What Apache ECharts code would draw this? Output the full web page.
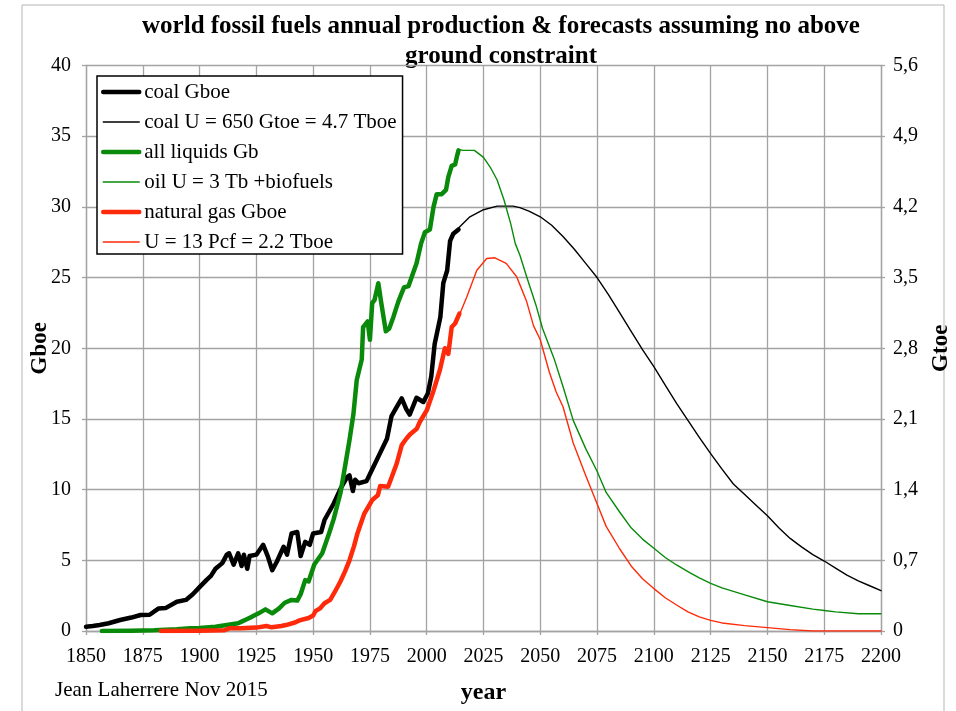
<!DOCTYPE html>
<html>
<head>
<meta charset="utf-8">
<script src="https://cdn.jsdelivr.net/npm/echarts@6/dist/echarts.min.js"></script>
<style>
  html, body { margin: 0; padding: 0; background: #ffffff; }
  #chart { width: 956px; height: 711px; }
</style>
</head>
<body>
<div id="chart"></div>
<script>
// Annual production in Gboe, [year, value]
const coalHistory = [
  [1850,0.3],[1853,0.35],[1856,0.42],[1860,0.55],[1865,0.78],[1870,0.95],[1874,1.13],[1878,1.15],
  [1882,1.6],[1885,1.62],[1890,2.07],[1894,2.2],[1897,2.6],[1900,3.1],[1903,3.6],[1905,3.9],
  [1907,4.4],[1910,4.8],[1912,5.4],[1913,5.5],[1915,4.7],[1917,5.5],[1918.5,4.6],[1919.5,5.4],
  [1921,4.4],[1922,5.3],[1925,5.4],[1928,6.1],[1930,5.3],[1932,4.3],[1934,4.9],[1937,5.96],
  [1938.5,5.4],[1940.5,6.9],[1943,7.0],[1944.5,5.3],[1946.5,6.3],[1948.5,6.1],[1950,6.9],
  [1953.5,7.0],[1955,7.85],[1959,9.0],[1962.5,10.2],[1965,10.9],[1966,11.0],[1967.5,9.9],
  [1968.5,10.7],[1970,10.45],[1973.5,10.6],[1976.5,11.6],[1979.5,12.6],[1982.5,13.6],
  [1984.5,15.2],[1987,15.9],[1989,16.45],[1991,15.7],[1992.5,15.3],[1995.5,16.5],[1998.5,16.2],
  [2000.5,16.8],[2002,18.0],[2003.5,20.3],[2006,22.2],[2007.3,24.6],[2009,25.5],[2010.3,27.6],
  [2011.7,28.1],[2014,28.4]
];
const coalForecast = [
  [2014,28.5],[2019,29.3],[2025,29.8],[2031,30.05],[2038,30.05],[2041,29.95],[2045,29.7],
  [2050,29.3],[2055,28.7],[2060,27.9],[2065,27.0],[2070,26.0],[2075,25.0],[2080,23.8],
  [2085,22.5],[2090,21.2],[2095,19.9],[2100,18.7],[2105,17.4],[2110,16.1],[2115,14.9],
  [2120,13.7],[2125,12.55],[2130,11.45],[2135,10.4],[2140,9.65],[2145,8.9],[2150,8.15],
  [2155,7.3],[2160,6.55],[2165,5.95],[2170,5.4],[2175,4.95],[2180,4.45],[2185,3.95],
  [2190,3.55],[2195,3.2],[2200,2.85]
];
const liquidsHistory = [
  [1857,0.0],[1870,0.02],[1880,0.05],[1890,0.12],[1896,0.19],[1900,0.22],[1907,0.3],[1912,0.42],
  [1917,0.55],[1918.5,0.66],[1921,0.85],[1923,1.0],[1926,1.25],[1929,1.53],[1932,1.25],
  [1935,1.6],[1937.5,2.0],[1940.5,2.2],[1943,2.15],[1944.5,2.6],[1946.5,3.6],[1948,3.5],
  [1950.5,4.7],[1954,5.5],[1957,6.9],[1959,7.9],[1962,9.74],[1964,11.6],[1966,13.5],
  [1967.7,15.3],[1969.2,17.75],[1971.4,19.2],[1972,21.5],[1974,21.9],[1975,20.6],[1976,23.2],
  [1977,23.4],[1978.7,24.6],[1980,23.2],[1982,21.2],[1983.5,21.4],[1985.3,22.2],[1987.5,23.3],
  [1990,24.3],[1992,24.4],[1993.5,25.1],[1995.5,26.0],[1997.5,27.4],[1999.2,28.2],[2001.4,28.4],
  [2003,30.0],[2004.4,30.9],[2006.6,30.9],[2008.5,31.2],[2009.5,32.1],[2011,32.9],[2012.5,33.0],
  [2013.2,33.5],[2014,34.0]
];
const oilForecast = [
  [2014,34.06],[2016,34.0],[2021,34.0],[2025,33.5],[2028,32.8],[2031,31.9],[2034,30.5],
  [2037,28.8],[2039,27.4],[2041,26.6],[2044,25.06],[2048,23.1],[2051,21.4],[2056,19.3],
  [2060,17.3],[2064.5,14.9],[2070,12.9],[2075,11.3],[2079,9.8],[2085,8.4],[2090,7.3],
  [2095,6.5],[2100,5.85],[2105,5.2],[2110,4.67],[2115,4.2],[2120,3.75],[2125,3.37],
  [2130,3.05],[2140,2.55],[2150,2.07],[2160,1.8],[2170,1.55],[2175,1.45],[2180,1.35],
  [2190,1.22],[2200,1.22]
];
const gasHistory = [
  [1883,0.0],[1900,0.02],[1911,0.05],[1913,0.19],[1918,0.19],[1925,0.24],[1929.5,0.35],
  [1931.7,0.26],[1936,0.35],[1938,0.42],[1942,0.6],[1944,0.75],[1948,0.92],[1950,1.1],
  [1951,1.4],[1953,1.6],[1955,1.96],[1957.5,2.2],[1960,2.9],[1962,3.5],[1964,4.2],[1966,5.0],
  [1968,6.0],[1969.5,6.9],[1971,7.6],[1972.5,8.3],[1974,8.7],[1976,9.26],[1978.5,9.6],
  [1979.5,10.25],[1983,10.2],[1984.6,10.9],[1986.8,11.85],[1989,13.15],[1991,13.6],
  [1992.6,13.9],[1995.6,14.3],[1997,14.8],[2000,15.6],[2003,17.0],[2005.8,18.46],[2008,20.0],
  [2009.5,19.6],[2011,21.5],[2012.5,21.75],[2014.4,22.45]
];
const gasForecast = [
  [2014.5,22.4],[2017.6,23.6],[2022,25.5],[2026.4,26.35],[2030,26.4],[2035,26.0],[2039.6,25.06],
  [2041,24.5],[2044,23.3],[2047,21.6],[2050,20.6],[2054,18.3],[2057,16.9],[2060,15.86],
  [2064.5,13.3],[2070,11.0],[2075,9.0],[2079,7.4],[2085,5.8],[2090,4.6],[2095,3.7],[2100,3.0],
  [2105,2.35],[2110,1.84],[2115,1.35],[2120,1.0],[2125,0.75],[2130,0.57],[2140,0.38],
  [2150,0.24],[2160,0.1],[2170,0.0],[2200,0.0]
];

const seriesNames = [
  'coal Gboe',
  'coal U = 650 Gtoe = 4.7 Tboe',
  'all liquids Gb',
  'oil U = 3 Tb +biofuels',
  'natural gas Gboe',
  'U = 13 Pcf = 2.2 Tboe'
];

const FONT = '"Liberation Serif", "Times New Roman", Times, serif';
const GRID_GRAY = '#a3a3a3';
const BLACK = '#000000';
const GREEN = '#0a8a0a';
const RED = '#ff2a0a';
const THICK = 4.5;
const THIN = 1.4;

const seriesStyles = [
  { data: coalHistory, color: BLACK, width: THICK },
  { data: coalForecast, color: BLACK, width: THIN },
  { data: liquidsHistory, color: GREEN, width: THICK },
  { data: oilForecast, color: GREEN, width: THIN },
  { data: gasHistory, color: RED, width: THICK },
  { data: gasForecast, color: RED, width: THIN }
];

const axisLineStyle = { color: GRID_GRAY, width: 1.3 };

const chart = echarts.init(document.getElementById('chart'), null, { renderer: 'canvas' });

chart.setOption({
  backgroundColor: '#ffffff',
  animation: false,
  textStyle: { fontFamily: FONT },
  grid: { left: 86, right: 75, top: 65.5, bottom: 80, containLabel: false, outerBoundsMode: 'none' },
  graphic: [
    {
      type: 'rect',
      shape: { x: 22, y: 5, width: 922, height: 720 },
      style: { fill: 'none', stroke: '#b5b5b5', lineWidth: 1 },
      silent: true, z: -10
    },
    {
      type: 'text',
      x: 501, y: 12,
      style: {
        text: 'world fossil fuels annual production & forecasts assuming no above\nground constraint',
        font: 'bold 25px ' + FONT,
        fill: '#000',
        textAlign: 'center',
        lineHeight: 30
      }
    },
    {
      type: 'text',
      x: 55, y: 690,
      style: {
        text: 'Jean Laherrere Nov 2015',
        font: '21px ' + FONT,
        fill: '#000',
        textAlign: 'left',
        textVerticalAlign: 'middle'
      }
    }
  ],
  legend: {
    orient: 'vertical',
    left: 97,
    top: 76,
    data: seriesNames.map(function (name, i) {
      return {
        name: name,
        itemStyle: { opacity: 0 },
        lineStyle: { color: seriesStyles[i].color, width: seriesStyles[i].width, opacity: 1 }
      };
    }),
    itemWidth: 36,
    itemHeight: 14,
    itemGap: 8,
    padding: [5, 6, 1, 4],
    borderColor: '#000',
    borderWidth: 1.5,
    backgroundColor: '#ffffff',
    selectedMode: false,
    textStyle: { fontFamily: FONT, fontSize: 21, color: '#000', lineHeight: 22 }
  },
  xAxis: {
    type: 'value',
    min: 1850,
    max: 2200,
    interval: 25,
    name: 'year',
    nameLocation: 'middle',
    nameGap: 50,
    nameMoveOverlap: false,
    nameTextStyle: { fontFamily: FONT, fontSize: 24, fontWeight: 'bold', color: '#000' },
    axisLine: { show: true, lineStyle: axisLineStyle },
    axisTick: { show: true, length: 4, lineStyle: axisLineStyle },
    axisLabel: {
      fontFamily: FONT, fontSize: 20, color: '#000', margin: 16,
      formatter: function (v) { return String(v); }
    },
    splitLine: { show: true, lineStyle: axisLineStyle }
  },
  yAxis: [
    {
      type: 'value',
      min: 0,
      max: 40,
      interval: 5,
      position: 'left',
      name: 'Gboe',
      nameLocation: 'middle',
      nameRotate: 90,
      nameGap: 34,
      nameMoveOverlap: false,
      nameTextStyle: { fontFamily: FONT, fontSize: 23, fontWeight: 'bold', color: '#000' },
      axisLine: { show: true, lineStyle: axisLineStyle },
      axisTick: { show: true, length: 4, lineStyle: axisLineStyle },
      axisLabel: { fontFamily: FONT, fontSize: 20, color: '#000', margin: 15 },
      splitLine: { show: true, lineStyle: axisLineStyle }
    },
    {
      type: 'value',
      min: 0,
      max: 5.6,
      interval: 0.7,
      position: 'right',
      name: 'Gtoe',
      nameLocation: 'middle',
      nameRotate: 90,
      nameGap: 49,
      nameMoveOverlap: false,
      nameTextStyle: { fontFamily: FONT, fontSize: 23, fontWeight: 'bold', color: '#000' },
      axisLine: { show: true, lineStyle: axisLineStyle },
      axisTick: { show: true, length: 4, lineStyle: axisLineStyle },
      axisLabel: {
        fontFamily: FONT, fontSize: 20, color: '#000', margin: 12,
        formatter: function (v) { return v === 0 ? '0' : v.toFixed(1).replace('.', ','); }
      },
      splitLine: { show: false }
    }
  ],
  series: seriesStyles.map(function (s, i) {
    return {
      type: 'line',
      name: seriesNames[i],
      data: s.data,
      yAxisIndex: 0,
      symbol: 'none',
      showSymbol: false,
      animation: false,
      lineStyle: { color: s.color, width: s.width, join: 'round', cap: 'round' },
      itemStyle: { color: s.color }
    };
  })
});
</script>
</body>
</html>
